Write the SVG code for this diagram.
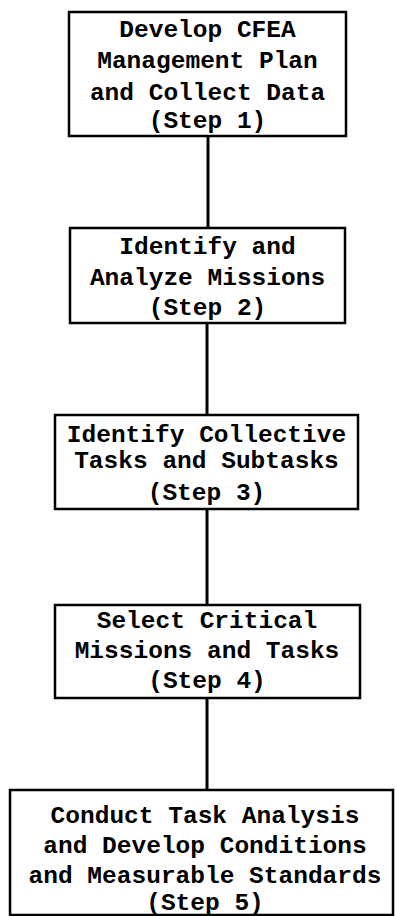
<svg xmlns="http://www.w3.org/2000/svg" width="396" height="916" viewBox="0 0 396 916">
<style>
.box{fill:#fff;stroke:#000;stroke-width:2.5}
.t{font-family:"Liberation Mono","Courier New",monospace;font-weight:bold;font-size:24.5px;fill:#000;text-anchor:middle}
.c{stroke:#000;stroke-width:3;fill:none}
</style>
<rect width="396" height="916" fill="#fff"/>
<g id="connectors">
<line class="c" x1="208" y1="136" x2="208" y2="228"/>
<line class="c" x1="207" y1="323" x2="207" y2="415"/>
<line class="c" x1="207" y1="509" x2="207" y2="605"/>
<line class="c" x1="207" y1="698" x2="207" y2="790"/>
</g>
<g id="step1">
<rect class="box" x="69" y="12" width="277" height="124"/>
<text class="t" x="207.5" y="37">Develop CFEA</text>
<text class="t" x="207.5" y="68">Management Plan</text>
<text class="t" x="207.5" y="100">and Collect Data</text>
<text class="t" x="207.5" y="128">(Step 1)</text>
</g>
<g id="step2">
<rect class="box" x="70" y="228" width="275" height="95"/>
<text class="t" x="207.5" y="254">Identify and</text>
<text class="t" x="207.5" y="285">Analyze Missions</text>
<text class="t" x="207.5" y="315">(Step 2)</text>
</g>
<g id="step3">
<rect class="box" x="55" y="415" width="303" height="94"/>
<text class="t" x="206.5" y="442">Identify Collective</text>
<text class="t" x="206.5" y="468">Tasks and Subtasks</text>
<text class="t" x="206.5" y="500">(Step 3)</text>
</g>
<g id="step4">
<rect class="box" x="55" y="605" width="305" height="93"/>
<text class="t" x="207" y="628">Select Critical</text>
<text class="t" x="207" y="658">Missions and Tasks</text>
<text class="t" x="207" y="688">(Step 4)</text>
</g>
<g id="step5">
<rect class="box" x="10" y="790" width="383" height="125"/>
<text class="t" x="205" y="823">Conduct Task Analysis</text>
<text class="t" x="205" y="853">and Develop Conditions</text>
<text class="t" x="205" y="883">and Measurable Standards</text>
<text class="t" x="205" y="910">(Step 5)</text>
</g>
</svg>
